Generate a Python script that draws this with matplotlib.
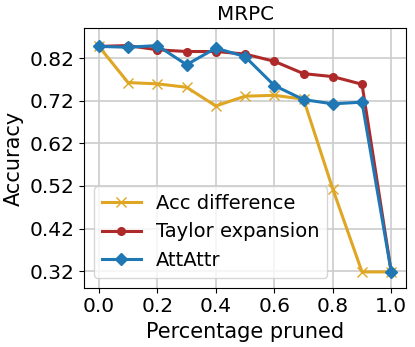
import numpy as np
import matplotlib
matplotlib.use("Agg")
import matplotlib.pyplot as plt

pruned = [0.0, 0.1, 0.2, 0.3, 0.4, 0.5, 0.6, 0.7, 0.8, 0.9, 1.0]
acc_diff = [0.848, 0.763, 0.760, 0.752, 0.708, 0.731, 0.733, 0.724, 0.513, 0.318, 0.318]
taylor = [0.848, 0.850, 0.840, 0.836, 0.836, 0.830, 0.813, 0.784, 0.777, 0.759, 0.318]
attattr = [0.848, 0.846, 0.850, 0.805, 0.844, 0.824, 0.756, 0.723, 0.713, 0.717, 0.318]
yticks = [0.32, 0.42, 0.52, 0.62, 0.72, 0.82]

fig = plt.figure(figsize=(4.15, 3.47), dpi=100)
ax = fig.add_axes([0.203, 0.171, 0.775, 0.748])

ax.plot(pruned, acc_diff, color="#DFA624", marker="x", lw=2.2, ms=7, label="Acc difference")
ax.plot(pruned, taylor, color="#AE2A2A", marker="o", lw=2.2, ms=5.5, label="Taylor expansion")
ax.plot(pruned, attattr, color="#1f77b4", marker="D", lw=2.2, ms=6.5, label="AttAttr")

ax.set_xlim(-0.05, 1.05)
ax.set_ylim(0.281, 0.891)
ax.set_yticks(yticks)
ax.set_xticks([0.0, 0.2, 0.4, 0.6, 0.8, 1.0])
ax.tick_params(labelsize=14.5)
ax.grid(True, color="#cccccc", lw=1.2)
ax.set_xlabel("Percentage pruned", fontsize=15)
ax.set_ylabel("Accuracy", fontsize=15)
ax.set_title("MRPC", fontsize=14.3)
ax.legend(loc="lower left", fontsize=14, handlelength=2)

fig.savefig("out.png", dpi=100)
